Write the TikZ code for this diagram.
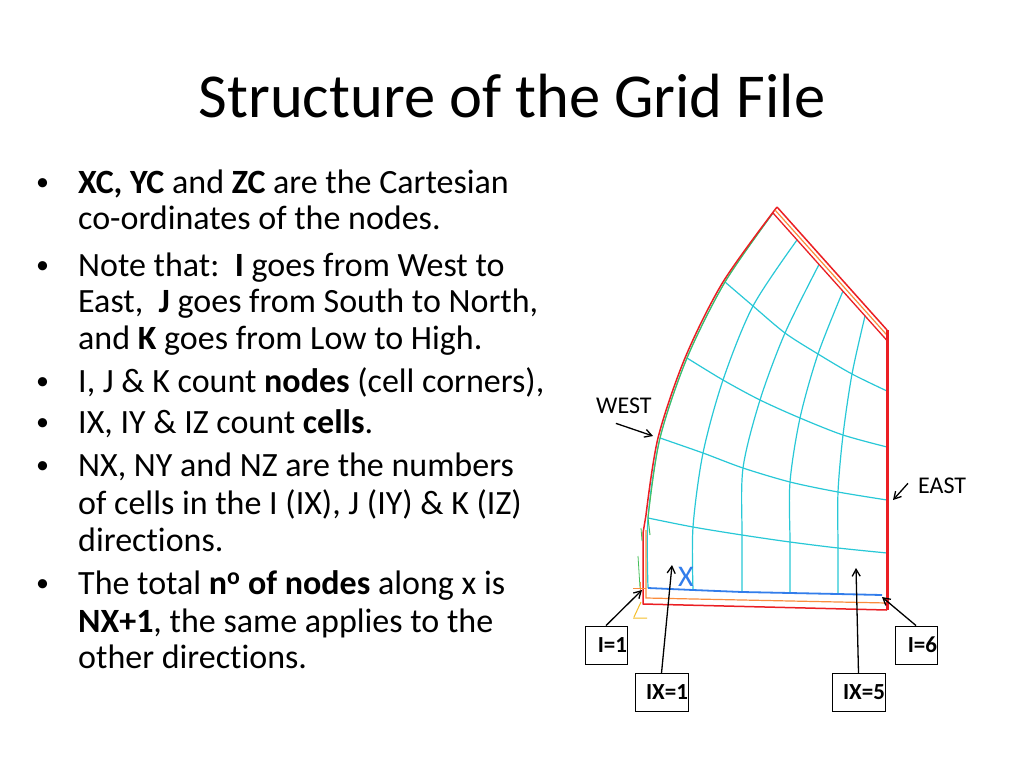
\documentclass[tikz,border=0pt]{standalone}
\usepackage{fontspec}
\setmainfont{Carlito}[Ligatures=NoCommon]
\usepackage{xcolor}
\usetikzlibrary{positioning,arrows.meta}

\definecolor{gridcyan}{RGB}{40,200,215}
\definecolor{bndred}{RGB}{235,30,35}
\definecolor{bndorange}{RGB}{250,140,60}
\definecolor{bndblue}{RGB}{50,125,235}
\definecolor{bndgreen}{RGB}{70,190,90}
\definecolor{bndyellow}{RGB}{245,190,40}

\begin{document}
\begin{tikzpicture}[x=1pt,y=-1pt,
    txt/.style={anchor=base west,inner sep=0pt,font=\fontsize{34}{37}\selectfont},
    bul/.style={anchor=base west,inner sep=0pt,font=\fontsize{26}{30}\selectfont},
    gridln/.style={draw=gridcyan,line width=1.2pt},
    lbl/.style={anchor=base west,inner sep=0pt,font=\fontsize{24}{28}\selectfont},
    idx/.style={draw,line width=0.9pt,font=\bfseries\fontsize{23}{26}\selectfont,minimum height=38pt,align=right,inner xsep=0pt,inner ysep=0pt},
    ptr/.style={line width=1.3pt,-{Straight Barb[length=7pt,width=8pt]}}]
    \useasboundingbox[fill=white] (0,0) rectangle (1024,768);

    % Title
    \node[font=\fontsize{62.5}{74}\selectfont,anchor=base] (title) at (512,117) {Structure of the Grid File};

    % Bullet list
    \foreach \y [count=\k] in {193,276,392,433,476,594}
        \node[bul] (b\k) at (36,\y-3) {\textbullet};
    \node[txt] (t1) at (78,193) {\textbf{XC, YC} and \textbf{ZC} are the Cartesian};
    \node[txt] (t2) at (78,229) {co-ordinates of the nodes.};
    \node[txt] (t3) at (78,276) {Note that:\ \ \textbf{I} goes from West to};
    \node[txt] (t4) at (78,312) {East,\ \ \textbf{J} goes from South to North,};
    \node[txt] (t5) at (78,349) {and \textbf{K} goes from Low to High.};
    \node[txt] (t6) at (78,392) {I, J \& K count \textbf{nodes} (cell corners),};
    \node[txt] (t7) at (78,433) {IX, IY \& IZ count \textbf{cells}.};
    \node[txt] (t8) at (78,476) {NX, NY and NZ are the numbers};
    \node[txt] (t9) at (78,514) {of cells in the I (IX), J (IY) \& K (IZ)};
    \node[txt] (t10) at (78,551) {directions.};
    \node[txt] (t11) at (78,594) {The total \textbf{n\textsuperscript{o} of nodes} along x is};
    \node[txt] (t12) at (78,632) {\textbf{NX+1}, the same applies to the};
    \node[txt] (t13) at (78,668) {other directions.};

    % Grid nodes, rows from South (J=1) to North (J=6)
    \foreach \x/\y [count=\i] in {648/588,693/590,742/592,790/593,838/594,887/595}
        \coordinate (r1-\i) at (\x,\y);
    \foreach \x/\y [count=\i] in {648/518,693/527,742/535,790/542,838/548,887/553}
        \coordinate (r2-\i) at (\x,\y);
    \foreach \x/\y [count=\i] in {660/438,703/453,743/468,790/482,838/492,887/500}
        \coordinate (r3-\i) at (\x,\y);
    \foreach \x/\y [count=\i] in {687/358,723/380,760/400,800/418,843/435,887/447}
        \coordinate (r4-\i) at (\x,\y);
    \foreach \x/\y [count=\i] in {725/282,753/306,785/333,818/354,852/374,887/391}
        \coordinate (r5-\i) at (\x,\y);
    \foreach \x/\y [count=\i] in {773/213,797/240,819/264.5,843/291,865/316,887/340.5}
        \coordinate (r6-\i) at (\x,\y);

    % I lines and J lines
    \foreach \i in {1,...,5}
        \draw[gridln] plot[smooth,tension=0.5] coordinates {(r1-\i) (r2-\i) (r3-\i) (r4-\i) (r5-\i) (r6-\i)};
    \foreach \j in {2,...,5}
        \draw[gridln] plot[smooth,tension=0.5] coordinates {(r\j-1) (r\j-2) (r\j-3) (r\j-4) (r\j-5) (r\j-6)};

    % Boundaries
    \draw[bndgreen,line width=1pt] plot[smooth,tension=0.5] coordinates {(r6-1) (r5-1) (r4-1) (r3-1) (r2-1)} -- (650,535);
    \draw[bndred,line width=1.5pt,line join=round] (887,330) -- (777,207)
        plot[smooth,tension=0.5] coordinates {(777,207) (723,282) (685,358) (658,438) (646,515)}
        -- (643,533) -- (643,604) -- (887,610);
    \draw[bndorange,line width=1.2pt] (775,210) -- (887,335.2);
    \draw[bndred,line width=1.3pt] (r6-1) -- (r6-6);
    \draw[bndorange,line width=1.2pt] (646,530) -- (646,598) -- (887,603);
    \draw[bndblue,line width=1.8pt] (r1-1) -- (r1-2) -- (r1-3) -- (r1-4) -- (r1-5) -- (882,595);
    \draw[bndred,line width=3pt] (887,330) -- (887,610);

    % Axis marks at the origin
    \draw[bndgreen,line width=0.8pt] (641,528) -- (642,541) (638,556) -- (640,588);
    \draw[bndorange,line width=1pt] (633,588) -- (646,588) (640,582) -- (640,594);
    \draw[bndyellow,line width=1pt] (633,618) -- (647,618) (634,617) -- (641,602);
    \node[text=bndblue,font=\fontsize{30}{30}\selectfont,inner sep=0pt] (xaxis) at (686,577) {X};

    % Labels and pointers
    \coordinate (westtip) at (653,436);
    \coordinate (easttip) at (893,500);
    \coordinate (i1tip) at (642,590);
    \coordinate (ix1tip) at (672,565);
    \coordinate (ix5tip) at (856,568);
    \coordinate (i6tip) at (882,597);

    \node[lbl] (west) at (596,413) {WEST};
    \node[lbl] (east) at (918,493) {EAST};
    \draw[ptr] ([shift={(-8,10)}]west.south) -- (westtip);
    \draw[ptr] ([shift={(-10,-2)}]east.west) -- (easttip);

    \node[idx,text width=42pt] (i1) at (606,645) {I=1};
    \node[idx,text width=42pt] (i6) at (916,645) {I=6};
    \node[idx,text width=53pt] (ix1) at (661.5,692.5) {IX=1};
    \node[idx,text width=53pt] (ix5) at (858.5,692.5) {IX=5};
    \draw[ptr] (i1.north) -- (i1tip);
    \draw[ptr] (i6.north) -- (i6tip);
    \draw[ptr] (ix1.north) -- (ix1tip);
    \draw[ptr] (ix5.north) -- (ix5tip);

\end{tikzpicture}
\end{document}
